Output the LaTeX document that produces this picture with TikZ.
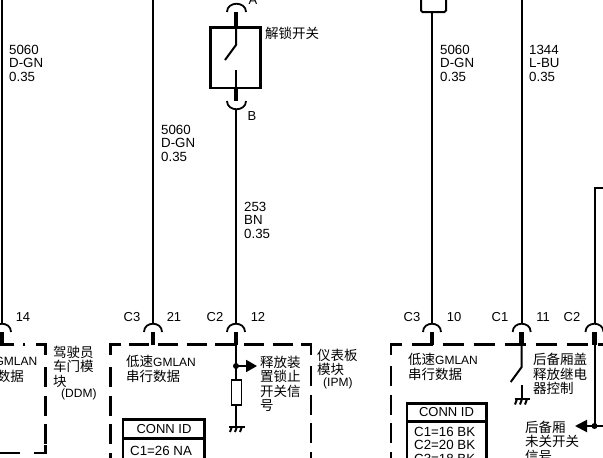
\documentclass[tikz,border=0pt]{standalone}
\usepackage{fontspec}
\setmainfont{Liberation Sans}
\newfontfamily\cjk{Noto Sans CJK SC}
\newcommand{\zh}[1]{{\fontsize{13.5}{14}\selectfont\cjk #1}}
\usetikzlibrary{arrows.meta}
\tikzset{
	wire/.style={line width=2pt},
	stub/.style={line width=4.5pt},
	socket/.style={line width=1.8pt},
	modbox/.style={line width=2.2pt, dash pattern=on 20pt off 8.7pt},
	connbox/.style={line width=2.5pt},
	gnd/.style={line width=2pt},
	lbl/.style={anchor=west, inner sep=0pt, align=left, font=\fontsize{13.3}{13.5}\selectfont},
	lblsm/.style={anchor=west, inner sep=0pt, align=left, font=\fontsize{12}{13.5}\selectfont},
	zhlbl/.style={anchor=west, inner sep=0pt, align=left, font=\fontsize{13.5}{14.4}\selectfont\cjk},
	tag/.style={anchor=center, inner sep=0pt, font=\fontsize{13}{13}\selectfont},
}
\begin{document}
\begin{tikzpicture}[x=1pt,y=-1pt]
	\useasboundingbox (0,0) rectangle (603,458);
	\clip (0,0) rectangle (603,458);
	\fill[white] (0,0) rectangle (603,458);

	% Connector sockets above the module edge
	\foreach \x/\pin in {2/ddm,153/lowa,236/rel,432/lowb,521.7/trk,594.5/ajr} {
		\coordinate (top\pin) at (\x,0);
		\coordinate (arc\pin) at (\x,324);
		\coordinate (stub\pin) at (\x,332);
		\coordinate (end\pin) at (\x,345);
		\draw[socket] (\x-9,332) .. controls (\x-9,321) and (\x+9,321) .. (\x+9,332);
		\draw[stub] (stub\pin) -- (end\pin);
	}

	% Draw the wires
	\draw[wire] (topddm) -- (arcddm);
	\draw[wire] (toplowa) -- (arclowa);
	\draw[wire] (toptrk) -- (arctrk);

	% Unlock switch
	\coordinate (swA) at (236,12);
	\coordinate (swT) at (236,27);
	\coordinate (swB) at (236,88);
	\coordinate (swE) at (236,101);
	\coordinate (swW) at (236,109);
	\draw[socket] (227,12) .. controls (227,1) and (246,1) .. (246,12);
	\draw[stub] (swA) -- (swT);
	\draw[socket] (227,101) .. controls (227,112) and (246,112) .. (246,101);
	\draw[stub] (swB) -- (swE);
	\draw[line width=2.6pt] (210.5,27.5) rectangle (260.5,88);
	\coordinate (swK) at (236,45);
	\coordinate (swF) at (225,60);
	\coordinate (swL) at (236,70);
	\draw[wire] (swT) -- (swK) -- (swF);
	\draw[wire] (swB) -- (swL);
	\draw[wire] (swW) -- (arcrel);

	% Box and wire at the top
	\draw[wire, rounded corners=1.5pt] (421,-5) -- (421,12) -- (446,12) -- (446,-5);
	\coordinate (boxb) at (432,12);
	\draw[wire] (boxb) -- (arclowb);

	% Wire coming from the right
	\coordinate (rightin) at (603,188);
	\coordinate (rightc) at (594.5,188);
	\draw[wire] (rightin) -- (rightc) -- (arcajr);

	% Dashed module edges
	\draw[modbox] (-5.6,344.5) -- (25,344.5);
	\draw[modbox] (36,344.5) -- (45.5,344.5) -- (45.5,355);
	\draw[modbox] (45.5,367) -- (45.5,445);
	\draw[modbox] (45.5,445) -- (45.5,453) -- (25,453);
	\draw[modbox] (0,453) -- (25,453);
	\draw[modbox] (110.5,354.5) -- (110.5,344.5) -- (311,344.5) -- (311,354.5);
	\draw[modbox] (110.5,367) -- (110.5,465);
	\draw[modbox] (311,366) -- (311,465);
	\draw[modbox, dash pattern=on 21pt off 10pt] (391,355) -- (391,344.5) -- (610,344.5);
	\draw[modbox] (391,366) -- (391,465);

	% Release input branch
	\coordinate (reldot) at (236,366);
	\coordinate (relout) at (257,366);
	\coordinate (relrt) at (236,380);
	\coordinate (relrb) at (236,405);
	\coordinate (relg) at (236,426);
	\draw[wire] (endrel) -- (relrt);
	\fill (reldot) circle (3pt);
	\draw[wire, -{Triangle[length=11pt,width=12pt]}] (reldot) -- (relout);
	\draw[line width=1.6pt, fill=white] (231.5,380) rectangle (241.5,405);
	\draw[wire] (relrb) -- (relg);
	\draw[gnd] (229,426.5) -- (245,426.5);
	\foreach \x in {232,237,242} \draw[gnd] (\x,426.5) -- (\x-2,432);

	% Trunk relay control
	\coordinate (trkk) at (521.7,367);
	\coordinate (trkf) at (510.7,382);
	\coordinate (trkg) at (521.7,385);
	\coordinate (trkb) at (521.7,399);
	\draw[wire] (endtrk) -- (trkk) -- (trkf);
	\draw[wire] (trkg) -- (trkb);
	\draw[gnd] (514.5,399) -- (530,399);
	\foreach \x in {517,522,527} \draw[gnd] (\x,399) -- (\x-2,404.5);

	% Trunk ajar output
	\coordinate (ajrdot) at (594.5,426);
	\coordinate (ajrin) at (603,426);
	\coordinate (ajrout) at (575,426);
	\draw[wire] (endajr) -- (ajrdot);
	\fill (ajrdot) circle (3pt);
	\draw[wire, -{Triangle[length=12pt,width=12pt]}] (ajrin) -- (ajrout);

	% Connector id tables
	\draw[connbox] (123,470) -- (123,419.5) -- (204.5,419.5) -- (204.5,470);
	\draw[connbox] (123,438.5) -- (204.5,438.5);
	\draw[connbox] (407,470) -- (407,403.5) -- (486.5,403.5) -- (486.5,470);
	\draw[connbox] (407,421.5) -- (486.5,421.5);
	\node[tag] (conna) at (164,429) {CONN ID};
	\node[tag] (connb) at (446.5,412.5) {CONN ID};
	\node[lbl] (conna1) at (130,450.5) {C1=26 NA};
	\node[lbl] (connb1) at (414,445) {C1=16 BK\\C2=20 BK\\C3=18 BK};

	% Wire labels
	\node[lbl] (w1) at (9,63) {5060\\D-GN\\0.35};
	\node[lbl] (w2) at (161,143) {5060\\D-GN\\0.35};
	\node[lbl] (w3) at (244,220) {253\\BN\\0.35};
	\node[lbl] (w4) at (440,63) {5060\\D-GN\\0.35};
	\node[lbl] (w5) at (529,63) {1344\\L-BU\\0.35};

	% Pin labels
	\node[tag] (p1) at (23,317) {14};
	\node[tag] (p2) at (132,317) {C3};
	\node[tag] (p3) at (174,317) {21};
	\node[tag] (p4) at (215,317) {C2};
	\node[tag] (p5) at (258,317) {12};
	\node[tag] (p6) at (412,317) {C3};
	\node[tag] (p7) at (454,317) {10};
	\node[tag] (p8) at (500,317) {C1};
	\node[tag] (p9) at (543,317) {11};
	\node[tag] (p10) at (572,317) {C2};
	\node[tag] (ptA) at (253,0) {A};
	\node[tag] (ptB) at (252,116) {B};

	% Module and signal labels
	\node[zhlbl] (unlock) at (265,33) {解锁开关};
	\node[lblsm, anchor=east] (gmlan0) at (37.5,361) {GMLAN};
	\node[zhlbl, anchor=east] (data0) at (24,376) {数据};
	\node[zhlbl] (ddm) at (53,366.5) {驾驶员\\车门模\\块};
	\node[lblsm] (ddmt) at (61,394) {(DDM)};
	\node[lblsm] (gmlan1) at (126,361) {\zh{低速}GMLAN};
	\node[zhlbl] (data1) at (126,376) {串行数据};
	\node[zhlbl] (relsig) at (260,384) {释放装\\置锁止\\开关信\\号};
	\node[zhlbl] (ipm) at (317,362.5) {仪表板\\模块};
	\node[lblsm] (ipmt) at (323,383) {(IPM)};
	\node[lblsm] (gmlan2) at (408,359) {\zh{低速}GMLAN};
	\node[zhlbl] (data2) at (408,374) {串行数据};
	\node[zhlbl] (trksig) at (533,374) {后备厢盖\\释放继电\\器控制};
	\node[zhlbl] (ajrsig) at (525,441.5) {后备厢\\未关开关\\信号};
\end{tikzpicture}
\end{document}
